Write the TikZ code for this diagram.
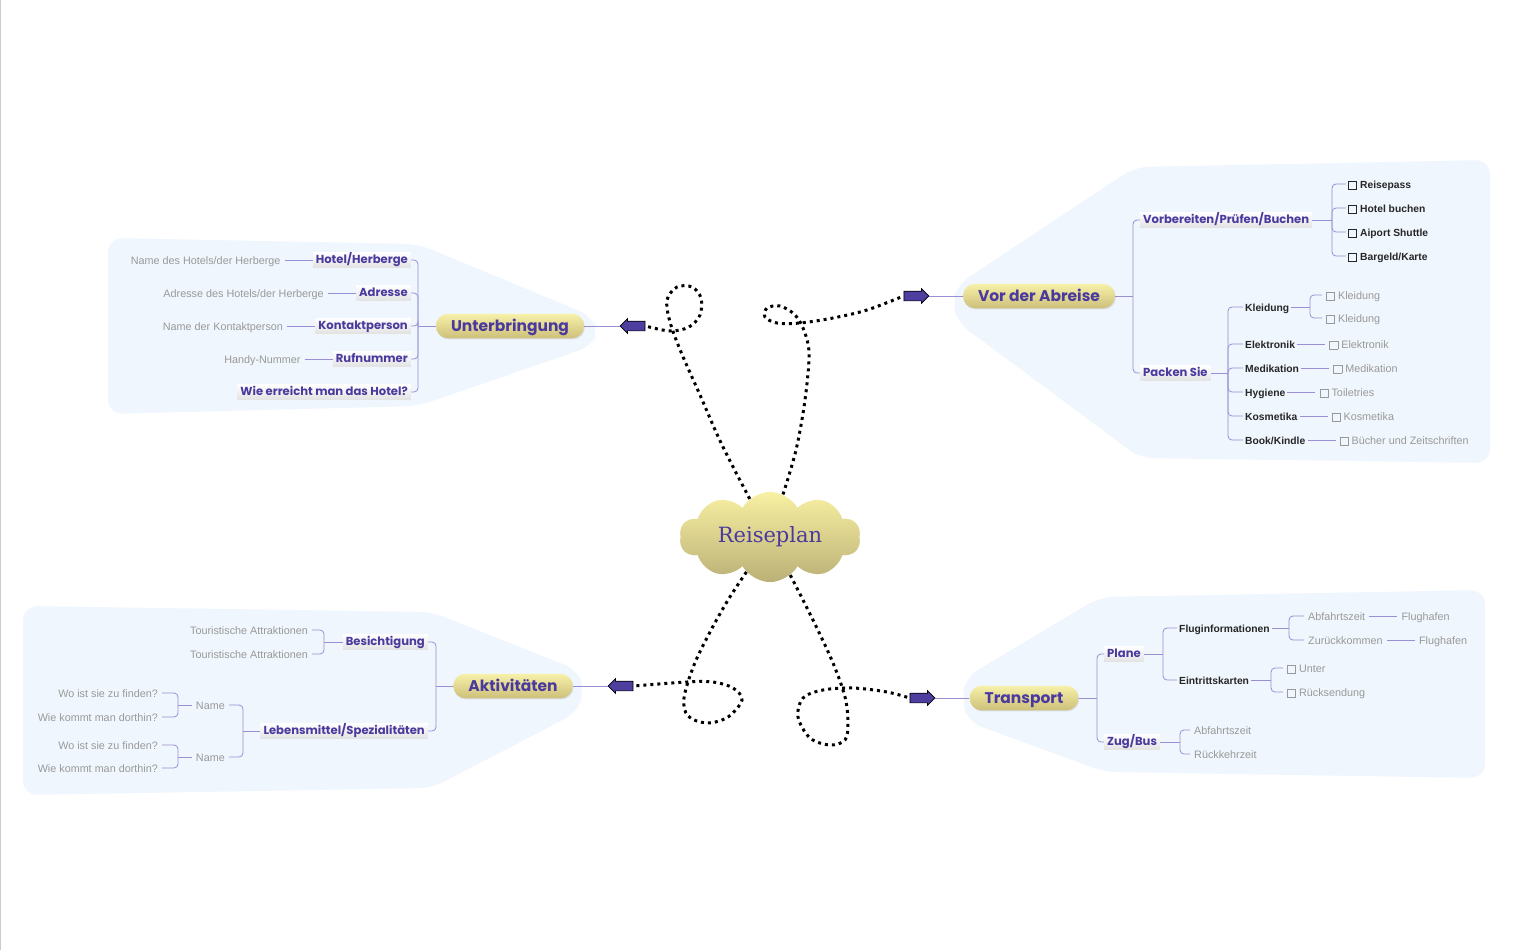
\documentclass[tikz,border=0pt]{standalone}
\usepackage{fontspec}
\setmainfont{Liberation Sans}
\newfontfamily\headfont{Poppins}
\newfontfamily\planfont{DejaVu Serif}
\usetikzlibrary{positioning,shapes.symbols,shapes.arrows,shadows}

\definecolor{purp}{HTML}{4B3A9E}
\definecolor{arrowpurp}{HTML}{4E3E9F}
\definecolor{linkpurp}{HTML}{9A8FD5}
\definecolor{regionblue}{HTML}{EFF6FD}
\definecolor{pilltop}{HTML}{F7F0A8}
\definecolor{pillbot}{HTML}{CDC07A}
\definecolor{cloudtop}{HTML}{F8F0A2}
\definecolor{cloudbot}{HTML}{BBB077}
\definecolor{leafgray}{HTML}{999999}
\definecolor{boxgray}{HTML}{E2E2E2}

\newcommand{\cbox}{\raisebox{-0.5pt}{\setlength{\fboxsep}{0pt}\setlength{\fboxrule}{0.7pt}\fbox{\rule{0pt}{7.5pt}\hspace{7.5pt}}}\hspace{3pt}}
\newcommand{\leaffont}{\fontsize{10.8}{12}\selectfont}
\newcommand{\itemfont}{\bfseries\fontsize{10.3}{12}\selectfont}

\begin{document}
\begin{tikzpicture}[x=1pt,y=-1pt,node distance=28pt,
    topic/.style={rounded corners=12pt,top color=pilltop,bottom color=pillbot,text=purp,
      font=\headfont\bfseries\fontsize{15.5}{17}\selectfont,text height=12.5pt,text depth=2pt,
      inner xsep=15pt,inner ysep=5pt,drop shadow={opacity=0.2,shadow xshift=0.8pt,shadow yshift=-1.2pt}},
    subtopic/.style={top color=white,bottom color=boxgray,text=purp,
      font=\headfont\bfseries\fontsize{11.6}{13}\selectfont,text height=9pt,text depth=1.5pt,
      inner xsep=3pt,inner ysep=2.5pt},
    entry/.style={font=\itemfont,text=black!85,text height=9.5pt,text depth=1pt,inner sep=2pt},
    leaf/.style={font=\leaffont,text=leafgray,text height=9.5pt,text depth=1pt,inner xsep=4pt,inner ysep=2pt},
    link/.style={draw=linkpurp,line width=0.8pt,rounded corners=4pt},
    region/.style={fill=regionblue,rounded corners=14pt},
    pointer/.style={single arrow,draw=black,line width=0.7pt,fill=arrowpurp,minimum height=25pt,
      inner xsep=0pt,inner ysep=4.5pt,single arrow head extend=2.5pt},
    loopy/.style={line width=3pt,dash pattern=on 3pt off 4pt}]
  \useasboundingbox (0,0) rectangle (1536,950);
  \draw[black!20,line width=1pt] (0.5,0) -- (0.5,950);

  % backgrounds
  \fill[region] (108,238) -- (418,244) -- (592,316) -- (598,331) -- (592,346) -- (418,406) -- (108,414) -- cycle;
  \fill[region] (1490,160) -- (1490,463) -- (1140,458) -- (957,322) -- (953,303) -- (957,285) -- (1135,167) -- cycle;
  \fill[region] (23,606) -- (432,612) -- (578,670) -- (584,690) -- (578,712) -- (432,788) -- (23,795) -- cycle;
  \fill[region] (1485,590) -- (1485,778) -- (1105,772) -- (968,722) -- (962,700) -- (966,677) -- (1100,597) -- cycle;

  \node[cloud,cloud puffs=10,cloud puff arc=120,aspect=2.2,minimum width=181pt,minimum height=86pt,
    inner sep=0pt,top color=cloudtop,bottom color=cloudbot,text=purp,
    font=\planfont\fontsize{21}{24}\selectfont] (plan) at (770,537) {Reiseplan};

  % Unterbringung
  \node[topic] (unter) at (510,326) {Unterbringung};
  \node[pointer,shape border rotate=180] (arrU) at (635,326) {};
  \draw[link] (unter.east) -- (arrU.tip);
  \coordinate (uB) at (418,326);
  \node[subtopic,anchor=east] (hotel) at (411,260) {Hotel/Herberge};
  \node[subtopic,anchor=east] (adresse) at (411,293) {Adresse};
  \node[subtopic,anchor=east] (kontakt) at (411,326) {Kontaktperson};
  \node[subtopic,anchor=east] (ruf) at (411,359) {Rufnummer};
  \node[subtopic,anchor=east] (erreich) at (411,392) {Wie erreicht man das Hotel?};
  \node[leaf,left=of hotel] (hotelname) {Name des Hotels/der Herberge};
  \node[leaf,left=of adresse] (adressetxt) {Adresse des Hotels/der Herberge};
  \node[leaf,left=of kontakt] (kontaktname) {Name der Kontaktperson};
  \node[leaf,left=of ruf] (handy) {Handy-Nummer};
  \draw[link] (unter.west) -- (uB);
  \foreach \n in {hotel,adresse,kontakt,ruf,erreich} \draw[link] (uB) |- (\n.east);
  \draw[link] (hotelname) -- (hotel) (adressetxt) -- (adresse) (kontaktname) -- (kontakt) (handy) -- (ruf);

  % Vor der Abreise
  \node[topic] (abreise) at (1039,296) {Vor der Abreise};
  \node[pointer] (arrV) at (914,296) {};
  \draw[link] (arrV.tip) -- (abreise.west);
  \coordinate (vB) at (1133,296);
  \node[subtopic,anchor=west] (vorb) at (1140,220) {Vorbereiten/Prüfen/Buchen};
  \node[subtopic,anchor=west] (packen) at (1140,373) {Packen Sie};
  \draw[link] (abreise.east) -- (vB);
  \foreach \n in {vorb,packen} \draw[link] (vB) |- (\n.west);
  \coordinate (vbB) at (1332,220);
  \node[entry,anchor=west] (pass) at (1346,184) {\cbox Reisepass};
  \node[entry,anchor=west] (hbuch) at (1346,208) {\cbox Hotel buchen};
  \node[entry,anchor=west] (shuttle) at (1346,232) {\cbox Aiport Shuttle};
  \node[entry,anchor=west] (geld) at (1346,256) {\cbox Bargeld/Karte};
  \draw[link] (vorb.east) -- (vbB);
  \foreach \n in {pass,hbuch,shuttle,geld} \draw[link] (vbB) |- (\n.west);
  \coordinate (pB) at (1228,373);
  \node[entry,anchor=west] (kleid) at (1243,307) {Kleidung};
  \node[entry,anchor=west] (elek) at (1243,344) {Elektronik};
  \node[entry,anchor=west] (medi) at (1243,368) {Medikation};
  \node[entry,anchor=west] (hyg) at (1243,392) {Hygiene};
  \node[entry,anchor=west] (kosm) at (1243,416) {Kosmetika};
  \node[entry,anchor=west] (book) at (1243,440) {Book/Kindle};
  \draw[link] (packen.east) -- (pB);
  \foreach \n in {kleid,elek,medi,hyg,kosm,book} \draw[link] (pB) |- (\n.west);
  \coordinate (kB) at (1310,307);
  \node[leaf,anchor=west] (kleid1) at (1322,295) {\cbox Kleidung};
  \node[leaf,anchor=west] (kleid2) at (1322,318) {\cbox Kleidung};
  \draw[link] (kleid.east) -- (kB);
  \foreach \n in {kleid1,kleid2} \draw[link] (kB) |- (\n.west);
  \node[leaf,right=of elek] (elek1) {\cbox Elektronik};
  \node[leaf,right=of medi] (medi1) {\cbox Medikation};
  \node[leaf,right=of hyg] (toil) {\cbox Toiletries};
  \node[leaf,right=of kosm] (kosm1) {\cbox Kosmetika};
  \node[leaf,right=of book] (buecher) {\cbox Bücher und Zeitschriften};
  \draw[link] (elek) -- (elek1) (medi) -- (medi1) (hyg) -- (toil) (kosm) -- (kosm1) (book) -- (buecher);

  % Aktivitaeten
  \node[topic] (aktiv) at (513,686) {Aktivitäten};
  \node[pointer,shape border rotate=180] (arrA) at (623,686) {};
  \draw[link] (aktiv.east) -- (arrA.tip);
  \coordinate (aB) at (436,686);
  \node[subtopic,anchor=east] (besicht) at (428,642) {Besichtigung};
  \node[subtopic,anchor=east] (lebens) at (428,731) {Lebensmittel/Spezialitäten};
  \draw[link] (aktiv.west) -- (aB);
  \foreach \n in {besicht,lebens} \draw[link] (aB) |- (\n.east);
  \coordinate (beB) at (324,642);
  \node[leaf,anchor=east] (tour1) at (312,630) {Touristische Attraktionen};
  \node[leaf,anchor=east] (tour2) at (312,654) {Touristische Attraktionen};
  \draw[link] (besicht.west) -- (beB);
  \foreach \n in {tour1,tour2} \draw[link] (beB) |- (\n.east);
  \coordinate (leB) at (243,731);
  \node[leaf,anchor=east] (name1) at (229,705) {Name};
  \node[leaf,anchor=east] (name2) at (229,757) {Name};
  \draw[link] (lebens.west) -- (leB);
  \foreach \n in {name1,name2} \draw[link] (leB) |- (\n.east);
  \coordinate (n1B) at (178,705);
  \node[leaf,anchor=east] (wo1) at (162,693) {Wo ist sie zu finden?};
  \node[leaf,anchor=east] (wie1) at (162,717) {Wie kommt man dorthin?};
  \draw[link] (name1.west) -- (n1B);
  \foreach \n in {wo1,wie1} \draw[link] (n1B) |- (\n.east);
  \coordinate (n2B) at (178,757);
  \node[leaf,anchor=east] (wo2) at (162,745) {Wo ist sie zu finden?};
  \node[leaf,anchor=east] (wie2) at (162,768) {Wie kommt man dorthin?};
  \draw[link] (name2.west) -- (n2B);
  \foreach \n in {wo2,wie2} \draw[link] (n2B) |- (\n.east);

  % Transport
  \node[topic] (trans) at (1024,698) {Transport};
  \node[pointer] (arrT) at (920,698) {};
  \draw[link] (arrT.tip) -- (trans.west);
  \coordinate (tB) at (1097,698);
  \node[subtopic,anchor=west] (plane) at (1104,654) {Plane};
  \node[subtopic,anchor=west] (zug) at (1104,742) {Zug/Bus};
  \draw[link] (trans.east) -- (tB);
  \foreach \n in {plane,zug} \draw[link] (tB) |- (\n.west);
  \coordinate (plB) at (1163,654);
  \node[entry,anchor=west] (flug) at (1177,628) {Fluginformationen};
  \node[entry,anchor=west] (eintritt) at (1177,680) {Eintrittskarten};
  \draw[link] (plane.east) -- (plB);
  \foreach \n in {flug,eintritt} \draw[link] (plB) |- (\n.west);
  \coordinate (flB) at (1289,628);
  \node[leaf,anchor=west] (abf) at (1304,616) {Abfahrtszeit};
  \node[leaf,anchor=west] (zur) at (1304,640) {Zurückkommen};
  \node[leaf,right=of abf] (hafen1) {Flughafen};
  \node[leaf,right=of zur] (hafen2) {Flughafen};
  \draw[link] (flug.east) -- (flB);
  \foreach \n in {abf,zur} \draw[link] (flB) |- (\n.west);
  \draw[link] (abf) -- (hafen1) (zur) -- (hafen2);
  \coordinate (eiB) at (1271,680);
  \node[leaf,anchor=west] (unterk) at (1283,668) {\cbox Unter};
  \node[leaf,anchor=west] (rueck) at (1283,692) {\cbox Rücksendung};
  \draw[link] (eintritt.east) -- (eiB);
  \foreach \n in {unterk,rueck} \draw[link] (eiB) |- (\n.west);
  \coordinate (zuB) at (1180,742);
  \node[leaf,anchor=west] (abf2) at (1190,730) {Abfahrtszeit};
  \node[leaf,anchor=west] (rkz) at (1190,754) {Rückkehrzeit};
  \draw[link] (zug.east) -- (zuB);
  \foreach \n in {abf2,rkz} \draw[link] (zuB) |- (\n.west);

  % dotted loops from the cloud to the arrows
  \draw[loopy] plot[smooth,tension=0.55] coordinates {(plan.118) (722,445) (700,395) (681,352) (670,322)
    (667,300) (677,287) (692,287) (701,298) (700,315) (689,327) (670,331) (arrU.tail)};
  \draw[loopy] plot[smooth,tension=0.55] coordinates {(plan.73) (796,450) (805,400) (809,353) (803,328)
    (794,314) (780,306) (767,308) (765,317) (777,323) (800,323) (833,318) (867,310) (arrV.tail)};
  \draw[loopy] plot[smooth,tension=0.55] coordinates {(plan.236) (728,600) (710,632) (694,665) (684,698)
    (688,716) (707,723) (728,717) (742,700) (733,688) (713,682) (687,682) (arrA.tail)};
  \draw[loopy] plot[smooth,tension=0.55] coordinates {(plan.298) (813,620) (833,663) (845,697) (848,723)
    (845,740) (830,745) (810,738) (798,717) (803,698) (823,690) (853,688) (887,692) (arrT.tail)};
\end{tikzpicture}
\end{document}
